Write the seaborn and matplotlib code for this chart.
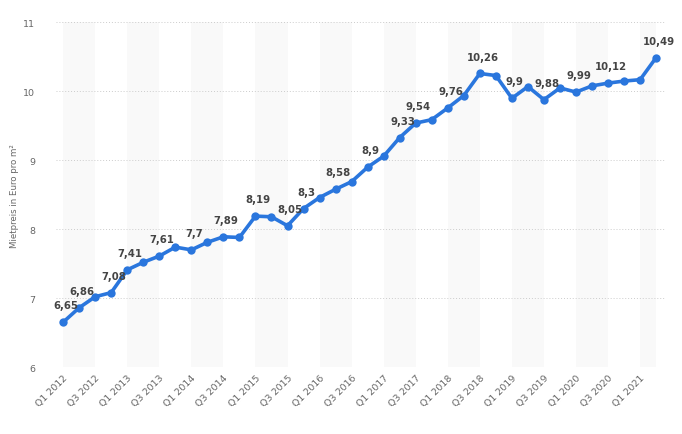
import numpy as np
import pandas as pd
import matplotlib
matplotlib.use("Agg")
import matplotlib.pyplot as plt
import seaborn as sns

# quarterly rent prices (Euro per m2), Q1 2012 - Q2 2021
years = list(range(2012, 2022))
quarters = [f"Q{q} {y}" for y in years for q in (1, 2, 3, 4)][:38]
prices = [6.65, 6.86, 7.02, 7.08, 7.41, 7.52, 7.61, 7.74, 7.70, 7.81,
          7.89, 7.88, 8.19, 8.18, 8.05, 8.30, 8.46, 8.58, 8.69, 8.90,
          9.06, 9.33, 9.54, 9.59, 9.76, 9.94, 10.26, 10.23, 9.90, 10.07,
          9.88, 10.05, 9.99, 10.08, 10.12, 10.15, 10.17, 10.49]
labeled_idx = [0, 1, 3, 4, 6, 8, 10, 12, 14, 15, 17, 19, 21, 22, 24, 26,
               28, 30, 32, 34, 37]

df = pd.DataFrame({"pos": range(len(quarters)), "quarter": quarters, "price": prices})

sns.set_theme(style="white")
plt.rcParams["font.family"] = ["DejaVu Sans"]

fig = plt.figure(figsize=(6.82, 4.35), dpi=100)
ax = fig.add_axes([0.082, 0.154, 0.893, 0.792])

# alternating background bands
n = len(df)
for start in range(0, n, 4):
    ax.axvspan(start, min(start + 2, n - 1), color="#f9f9f9", lw=0, zorder=0)

for v in range(6, 12):
    ax.axhline(v, color="#cccccc", lw=0.7, ls=(0, (1, 2)), zorder=1)

sns.lineplot(data=df, x="pos", y="price", ax=ax, color="#2a76dd", lw=2.6,
             marker="o", markersize=6, markeredgewidth=0, zorder=3)

for i in labeled_idx:
    txt = f"{prices[i]:g}".replace(".", ",")
    ax.annotate(txt, (df.pos[i], prices[i]), xytext=(2, 8.5), textcoords="offset points",
                ha="center", va="bottom", fontsize=7.3, fontweight="bold", color="#444444")

ax.set_xlim(-0.45, n - 1 + 0.55)
ax.set_ylim(6, 11)
ax.set_yticks(range(6, 12))
ax.set_xticks(df.pos[::2])
ax.set_xticklabels(df.quarter[::2], rotation=45, ha="right", rotation_mode="anchor")
ax.tick_params(axis="both", length=0, labelsize=6.8, colors="#666666")
ax.tick_params(axis="y", pad=15)
ax.tick_params(axis="x", pad=4)
ax.set_xlabel("")
ax.set_ylabel("Mietpreis in Euro pro m²", fontsize=6.2, color="#666666", labelpad=3)
for s in ax.spines.values():
    s.set_visible(False)

fig.savefig("out.png", dpi=100)
